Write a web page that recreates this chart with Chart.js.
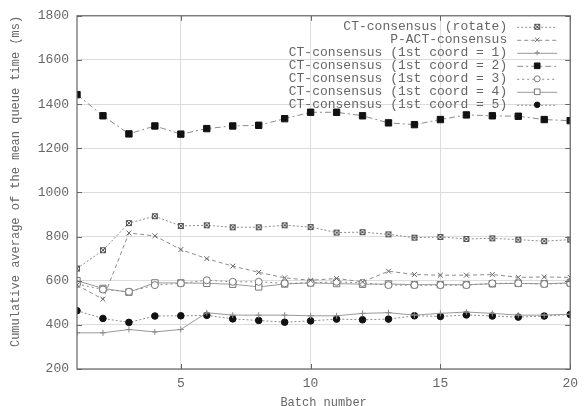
<!DOCTYPE html>
<html>
<head>
<meta charset="utf-8">
<script src="https://cdn.jsdelivr.net/npm/chart.js@4/dist/chart.umd.min.js"></script>
<style>
  html, body { margin: 0; padding: 0; background: #fff; }
  #wrap { width: 585px; height: 406px; }
</style>
</head>
<body>
<div id="wrap"><canvas id="myChart" width="585" height="406"></canvas></div>
<script>
'use strict';

// ---------- data ----------
let batches = [1,2,3,4,5,6,7,8,9,10,11,12,13,14,15,16,17,18,19,20];
let xTicks = [5,10,15,20];

let rotateVals = [655,738,861,892,848,851,842,842,851,843,818,820,810,795,798,789,792,786,779,786];
let pactVals   = [580,516,816,803,741,700,666,638,613,602,610,595,643,628,625,625,628,615,617,615];
let coord1Vals = [364,364,379,368,379,455,444,444,444,441,441,452,455,444,452,458,452,444,444,448];
let coord2Vals = [1443,1347,1265,1301,1264,1289,1301,1304,1334,1363,1363,1347,1315,1307,1330,1351,1347,1345,1330,1325];
let coord3Vals = [585,560,550,580,588,602,595,595,588,590,595,590,580,580,580,580,588,588,585,588];
let coord4Vals = [600,565,548,590,590,588,584,572,585,590,587,584,585,582,582,582,586,588,586,590];
let coord5Vals = [464,429,411,440,441,443,427,420,412,418,426,423,426,441,438,445,440,435,440,447];

let seriesNames = [
  'CT-consensus (rotate)',
  'P-ACT-consensus',
  'CT-consensus (1st coord = 1)',
  'CT-consensus (1st coord = 2)',
  'CT-consensus (1st coord = 3)',
  'CT-consensus (1st coord = 4)',
  'CT-consensus (1st coord = 5)'
];

// ---------- boxed asterisk marker ----------
let boxStar = document.createElement('canvas');
boxStar.width = 8; boxStar.height = 8;
(function(){
  let c = boxStar.getContext('2d');
  c.strokeStyle = '#555';
  c.lineWidth = 1;
  c.strokeRect(1.5,1.5,5,5);
  c.beginPath();
  c.moveTo(2,2); c.lineTo(6,6);
  c.moveTo(6,2); c.lineTo(2,6);
  c.stroke();
})();

function pts(arr){
  return batches.map((b,i)=>({x:b, y:arr[i]}));
}

let lineGray = '#8c8c8c';
let dataSets = [
  {label: seriesNames[0], data: pts(rotateVals), borderColor: lineGray, borderDash:[2,2],
   pointStyle: boxStar, pointRadius: 4, pointBorderColor:'#555', pointBackgroundColor:'#fff'},
  {label: seriesNames[1], data: pts(pactVals), borderColor: lineGray, borderDash:[4,3],
   pointStyle: 'crossRot', pointRadius: 3.5, pointBorderColor:'#666', pointBackgroundColor:'#666'},
  {label: seriesNames[2], data: pts(coord1Vals), borderColor: '#999', borderDash:[],
   pointStyle: 'cross', pointRadius: 3, pointBorderColor:'#888', pointBackgroundColor:'#888'},
  {label: seriesNames[3], data: pts(coord2Vals), borderColor: lineGray, borderDash:[6,3,2,3],
   pointStyle: 'rect', pointRadius: 4.5, pointBorderColor:'#111', pointBackgroundColor:'#111'},
  {label: seriesNames[4], data: pts(coord3Vals), borderColor: lineGray, borderDash:[2,3],
   pointStyle: 'circle', pointRadius: 3.5, pointBorderColor:'#777', pointBackgroundColor:'#fff'},
  {label: seriesNames[5], data: pts(coord4Vals), borderColor: '#9a9a9a', borderDash:[],
   pointStyle: 'rect', pointRadius: 4.5, pointBorderColor:'#777', pointBackgroundColor:'#fff'},
  {label: seriesNames[6], data: pts(coord5Vals), borderColor: lineGray, borderDash:[2,2],
   pointStyle: 'circle', pointRadius: 3.3, pointBorderColor:'#111', pointBackgroundColor:'#111'}
];
dataSets.forEach(d => { d.borderWidth = 1; d.pointBorderWidth = 1; d.fill = false; d.tension = 0; });

let monoFont = "'Liberation Mono', 'DejaVu Sans Mono', monospace";
let textGray = '#666';

// ---------- frame, ticks, and gnuplot-style legend ----------
let framePlugin = {
  id: 'frame',
  afterDraw(chart){
    let ctx = chart.ctx, a = chart.chartArea;
    let xs = chart.scales.x, ys = chart.scales.y;
    ctx.save();
    ctx.strokeStyle = '#666';
    ctx.lineWidth = 1.2;
    ctx.strokeRect(a.left, a.top, a.right - a.left, a.bottom - a.top);
    ctx.lineWidth = 1;
    ctx.beginPath();
    ys.ticks.forEach(t => {
      let y = Math.round(ys.getPixelForValue(t.value)) + 0.5;
      ctx.moveTo(a.left, y); ctx.lineTo(a.left + 5, y);
      ctx.moveTo(a.right, y); ctx.lineTo(a.right - 5, y);
    });
    xs.ticks.forEach(t => {
      let x = Math.round(xs.getPixelForValue(t.value)) + 0.5;
      ctx.moveTo(x, a.bottom); ctx.lineTo(x, a.bottom - 5);
      ctx.moveTo(x, a.top); ctx.lineTo(x, a.top + 5);
    });
    ctx.stroke();

    // legend
    let textRight = a.right - 63;
    let sx0 = a.right - 53, sx1 = a.right - 13;
    ctx.font = '13px ' + monoFont;
    ctx.textAlign = 'right';
    ctx.textBaseline = 'middle';
    chart.data.datasets.forEach((d, i) => {
      let y = a.top + 11 + i * 13;
      ctx.fillStyle = textGray;
      ctx.fillText(d.label, textRight, y);
      ctx.save();
      ctx.strokeStyle = d.borderColor;
      ctx.lineWidth = 1;
      ctx.setLineDash(d.borderDash || []);
      ctx.beginPath();
      ctx.moveTo(sx0, y + 0.5); ctx.lineTo(sx1, y + 0.5);
      ctx.stroke();
      ctx.restore();
      ctx.save();
      ctx.strokeStyle = d.pointBorderColor;
      ctx.fillStyle = d.pointBackgroundColor;
      ctx.lineWidth = 1;
      Chart.helpers.drawPoint(ctx, {pointStyle: d.pointStyle, radius: d.pointRadius - 0.5, rotation: 0, borderWidth: 1},
        (sx0 + sx1) / 2, y);
      ctx.restore();
    });
    ctx.restore();
  }
};

let ctx = document.getElementById('myChart');
let myChart = new Chart(ctx, {
  type: 'line',
  data: { datasets: dataSets },
  options: {
    responsive: false,
    animation: false,
    layout: { padding: { left: 0, right: 12, top: 15, bottom: 0 } },
    plugins: {
      legend: { display: false },
      tooltip: { enabled: false }
    },
    scales: {
      x: {
        type: 'linear',
        min: 1, max: 20,
        afterBuildTicks(axis){ axis.ticks = xTicks.map(v => ({value: v})); },
        afterFit(scale){ scale.height = 37; },
        grid: { color: '#dcdcdc', drawTicks: false, tickLength: 0, lineWidth: 1 },
        border: { display: false },
        ticks: { color: textGray, font: { family: monoFont, size: 13 }, padding: 7, maxRotation: 0,
                 callback: v => String(v) },
        title: { display: true, text: 'Batch number', color: textGray, font: { family: monoFont, size: 12 }, padding: { top: 0, bottom: -4 } }
      },
      y: {
        min: 200, max: 1800,
        ticks: { stepSize: 200, color: textGray, font: { family: monoFont, size: 13 }, padding: 8,
                 callback: v => String(v) },
        afterFit(scale){ scale.width = 77; },
        grid: { color: '#dcdcdc', drawTicks: false, tickLength: 0, lineWidth: 1 },
        border: { display: false },
        title: { display: true, align: 'end', text: 'Cumulative average of the mean queue time (ms)', color: textGray, font: { family: monoFont, size: 12 }, padding: { top: 9, bottom: 0 } }
      }
    }
  },
  plugins: [framePlugin]
});
</script>
</body>
</html>
